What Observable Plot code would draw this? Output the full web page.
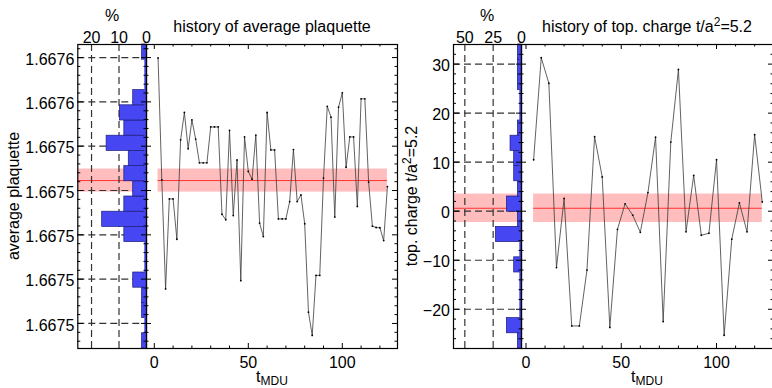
<!DOCTYPE html>
<html><head><meta charset="utf-8">
<script src="https://cdn.jsdelivr.net/npm/d3@7"></script>
<script src="https://cdn.jsdelivr.net/npm/@observablehq/plot@0.6"></script>
<style>
html,body{margin:0;padding:0;background:#fff;overflow:hidden;}
#wrap{position:relative;width:772px;height:388px;overflow:hidden;background:#fff;}
</style></head><body><div id="wrap"></div><script>
// ---------- data ----------
// history of average plaquette (MDU time, value)
const plaqT = [2,4,6,8,10,12,14,16,18,20,22,24,26,28,30,32,34,36,38,40,42,44,46,48,50,52,54,56,58,60,62,64,66,68,70,72,74,76,78,80,82,84,86,88,90,92,94,96,98,100,102,104,106,108,110,112,114,116,118,120,122,124];
const plaqV = [1.6675798, 1.6675248, 1.6674756, 1.6675162, 1.6675162, 1.6674980, 1.6675429, 1.6675552, 1.6675388, 1.6675519,
 1.6675432, 1.6675325, 1.6675325, 1.6675325, 1.6675487, 1.6675487, 1.6675487, 1.6675093, 1.6675068, 1.6675471,
 1.6675087, 1.6675338, 1.6674793, 1.6675442, 1.6675286, 1.6675251, 1.6675450, 1.6675053, 1.6674992, 1.6675552,
 1.6675383, 1.6675383, 1.6675072, 1.6675072, 1.6675072, 1.6675150, 1.6675385, 1.6675150, 1.6675180, 1.6675050,
 1.6674651, 1.6674546, 1.6674817, 1.6674817, 1.6675256, 1.6675580, 1.6675531, 1.6675080, 1.6675576, 1.6675641,
 1.6675305, 1.6675442, 1.6675442, 1.6675128, 1.6675614, 1.6675614, 1.6675238, 1.6675039, 1.6675033, 1.6675032,
 1.6674974, 1.6675218];
const plaqMean = 1.6675245, plaqErr = 0.0000052;
const plaqDomain = [1.6674487, 1.6675859];
const plaqYTicks = [1.66758, 1.66756, 1.66754, 1.66752, 1.66750, 1.66748, 1.66746];
const plaqYTickLabels = ["1.6676", "1.6676", "1.6675", "1.6675", "1.6675", "1.6675", "1.6675"];
const plaqPctTicks = [20, 10, 0];
const plaqPctLabels = ["20", "10", "0"];
const plaqPctDomain = [25, 0];
const plaqTDomain = [-4.15, 129.36];

// history of topological charge t/a^2 = 5.2
const qT = [4,8,12,16,20,24,28,32,36,40,44,48,52,56,60,64,68,72,76,80,84,88,92,96,100,104,108,112,116,120,124];
const qV = [10.5, 31.3, 26.1, -11.5, 2.6, -23.4, -23.4, -12.0, 15.2, 7.0, -23.7, -3.7, 1.5, -0.8, -4.3, 3.8, 15.1, -22.5, 14.1, 28.9, -4.2, 7.3, -4.9, -4.5, 10.5, -25.3, -5.7, 1.7, -4.2, 15.6, 1.9];
const qMean = 0.6, qErr = 2.9;
const qDomain = [-28, 34];
const qYTicks = [30, 20, 10, 0, -10, -20];
const qYTickLabels = ["30", "20", "10", "0", "\u221210", "\u221220"];
const qPctTicks = [50, 25, 0];
const qPctLabels = ["50", "25", "0"];
const qPctDomain = [60, 0];
const qTDomain = [-2.36, 129.9];

const tTicks = [0, 50, 100];
const tTickLabels = ["0", "50", "100"];
const nBins = 20;

// ---------- styling ----------
const W = 772, H = 388, MT = 44, MB = 40, FH = H - MT - MB;
const FONT = "Liberation Sans, Arial, Helvetica, sans-serif";
const PINK = "#ffbdbd", RED = "#ff3535", BLUE = "#4646f2", BLUE_EDGE = "#1c1c7a";
const STYLE = {background: "transparent", overflow: "visible", maxWidth: "none", fontFamily: FONT, fontSize: "16px", color: "#000"};
const wrap = document.getElementById("wrap");

function place(svg, left) {
  svg.style.position = "absolute";
  svg.style.left = left + "px";
  svg.style.top = "0px";
  wrap.appendChild(svg);
}
const lookup = (ticks, labels) => { const m = new Map(ticks.map((t, i) => [t, labels[i]])); return d => m.get(d); };
const yTickMarks = (vals, side, len, fw) => Plot.tickY(vals, side === "left"
  ? {y: d => d, insetRight: fw - len, stroke: "#000", strokeWidth: 1}
  : {y: d => d, insetLeft: fw - len, stroke: "#000", strokeWidth: 1});
const xTickMarks = (vals, side, len) => Plot.tickX(vals, side === "top"
  ? {x: d => d, insetBottom: FH - len, stroke: "#000", strokeWidth: 1}
  : {x: d => d, insetTop: FH - len, stroke: "#000", strokeWidth: 1});

function histogram(values, domain) {
  const [lo, hi] = domain, step = (hi - lo) / nBins;
  const thr = d3.range(1, nBins).map(i => lo + i * step);
  return d3.bin().domain([lo, hi]).thresholds(thr)(values)
    .filter(b => b.length > 0)
    .map(b => ({y1: b.x0, y2: b.x1, pct: b.length / values.length * 100}));
}

function histPanel({values, domain, pctDomain, pctTicks, pctLabels, yTicks, yLabels, yMinor, mean, err, left, width, marginLeft}) {
  const fw = width - marginLeft;
  const bins = histogram(values, domain);
  const svg = Plot.plot({
    width, height: H, marginLeft, marginRight: 0, marginTop: MT, marginBottom: MB,
    style: STYLE,
    x: {domain: pctDomain, axis: null},
    y: {domain, axis: null},
    marks: [
      Plot.rect([{}], {x1: pctDomain[0], x2: 0, y1: mean - err, y2: mean + err, fill: PINK}),
      Plot.ruleY([mean], {stroke: RED, strokeWidth: 1}),
      Plot.ruleY(yTicks, {stroke: "#333", strokeWidth: 1.2, strokeDasharray: "7,4"}),
      Plot.ruleX(pctTicks.filter(d => d !== 0), {stroke: "#333", strokeWidth: 1.2, strokeDasharray: "7,4"}),
      Plot.rect(bins, {x1: 0, x2: "pct", y1: "y1", y2: "y2", fill: BLUE, stroke: BLUE_EDGE, strokeWidth: 0.7}),
      Plot.ruleX([0], {stroke: BLUE, strokeWidth: 2.2, dx: -1.1}),
      yTickMarks(yTicks, "left", 6, fw),
      yTickMarks(yMinor, "left", 3, fw),
      yTickMarks(yTicks, "right", 5, fw),
      yTickMarks(yMinor, "right", 2.5, fw),
      Plot.frame({stroke: "#000", strokeWidth: 1.2}),
      Plot.axisX(pctTicks, {anchor: "top", tickSize: 0, tickPadding: 1.5, fontSize: 16, label: null, tickFormat: lookup(pctTicks, pctLabels)}),
      Plot.axisY(yTicks, {anchor: "left", tickSize: 0, tickPadding: 3.5, fontSize: 16, label: null, dy: 2, tickFormat: lookup(yTicks, yLabels)})
    ]
  });
  place(svg, left);
}

function seriesPanel({T, V, domain, tDomain, yTicks, yMinor, mean, err, left, width}) {
  const data = T.map((t, i) => ({t, v: V[i]}));
  const tMinor = d3.range(10, 130, 10).filter(d => d % 50 !== 0);
  const svg = Plot.plot({
    width, height: H, marginLeft: 0, marginRight: 0, marginTop: MT, marginBottom: MB,
    style: STYLE,
    x: {domain: tDomain, axis: null},
    y: {domain, axis: null},
    marks: [
      Plot.rect([{}], {x1: T[0], x2: T[T.length - 1], y1: mean - err, y2: mean + err, fill: PINK}),
      Plot.ruleY([mean], {x1: T[0], x2: T[T.length - 1], stroke: RED, strokeWidth: 1}),
      Plot.line(data, {x: "t", y: "v", stroke: "#3a3a3a", strokeWidth: 0.8}),
      Plot.dot(data, {x: "t", y: "v", r: 0.9, fill: "#000", stroke: null}),
      yTickMarks(yTicks, "left", 5, width),
      yTickMarks(yMinor, "left", 2.5, width),
      yTickMarks(yTicks, "right", 5, width),
      yTickMarks(yMinor, "right", 2.5, width),
      xTickMarks(tTicks, "top", 5), xTickMarks(tMinor, "top", 2.5),
      xTickMarks(tTicks, "bottom", 5), xTickMarks(tMinor, "bottom", 2.5),
      Plot.frame({stroke: "#000", strokeWidth: 1.2}),
      Plot.axisX(tTicks, {anchor: "bottom", tickSize: 0, tickPadding: 7.9, fontSize: 16, label: null, tickFormat: lookup(tTicks, tTickLabels)})
    ]
  });
  place(svg, left);
}

const plaqMinor = d3.range(-1, 33).filter(k => k % 5 !== 0).map(k => 1.66758 - k * 0.000004)
  .filter(v => v > plaqDomain[0] && v < plaqDomain[1]);
const qMinor = d3.range(-26, 34, 2).filter(v => v % 10 !== 0);

histPanel({values: plaqV, domain: plaqDomain, pctDomain: plaqPctDomain, pctTicks: plaqPctTicks, pctLabels: plaqPctLabels,
  yTicks: plaqYTicks, yLabels: plaqYTickLabels, yMinor: plaqMinor, mean: plaqMean, err: plaqErr, left: 0, width: 146, marginLeft: 77.3});
seriesPanel({T: plaqT, V: plaqV, domain: plaqDomain, tDomain: plaqTDomain, yTicks: plaqYTicks, yMinor: plaqMinor,
  mean: plaqMean, err: plaqErr, left: 146, width: 251});
histPanel({values: qV, domain: qDomain, pctDomain: qPctDomain, pctTicks: qPctTicks, pctLabels: qPctLabels,
  yTicks: qYTicks, yLabels: qYTickLabels, yMinor: qMinor, mean: qMean, err: qErr, left: 397, width: 124, marginLeft: 56});
seriesPanel({T: qT, V: qV, domain: qDomain, tDomain: qTDomain, yTicks: qYTicks, yMinor: qMinor,
  mean: qMean, err: qErr, left: 521, width: 252});

// ---------- titles and axis names ----------
const ov = d3.create("svg").attr("width", W).attr("height", H)
  .style("position", "absolute").style("left", "0px").style("top", "0px")
  .style("font-family", FONT).style("font-size", "16px").style("pointer-events", "none");
const txt = (x, y, s) => ov.append("text").attr("x", x).attr("y", y).attr("text-anchor", "middle").attr("fill", "#000").text(s);
txt(112, 20.5, "%");
txt(487, 20.5, "%");
txt(272, 31.7, "history of average plaquette");
const t2 = ov.append("text").attr("x", 647).attr("y", 31.7).attr("text-anchor", "middle");
t2.append("tspan").text("history of top. charge t/a");
t2.append("tspan").attr("font-size", 12).attr("dy", -6).text("2");
t2.append("tspan").attr("dy", 6).text("=5.2");
ov.append("text").attr("transform", "translate(19,196) rotate(-90)").attr("text-anchor", "middle").text("average plaquette");
const yl = ov.append("text").attr("transform", "translate(417,196) rotate(-90)").attr("text-anchor", "middle");
yl.append("tspan").text("top. charge t/a");
yl.append("tspan").attr("font-size", 12).attr("dy", -6).text("2");
yl.append("tspan").attr("dy", 6).text("=5.2");
for (const cx of [272, 647]) {
  const tl = ov.append("text").attr("x", cx).attr("y", 381.5).attr("text-anchor", "middle");
  tl.append("tspan").text("t");
  tl.append("tspan").attr("font-size", 12).attr("dy", 3).text("MDU");
}
wrap.appendChild(ov.node());
</script></body></html>
